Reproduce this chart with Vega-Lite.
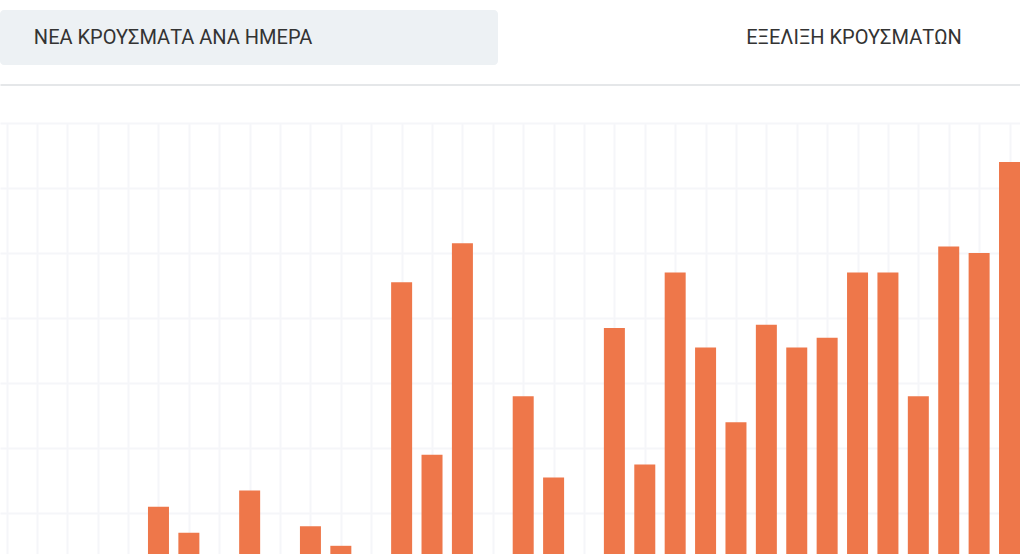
{
  "$schema": "https://vega.github.io/schema/vega-lite/v6.json",
  "padding": {"top": 10, "left": 0, "right": 0, "bottom": 0},
  "autosize": {"type": "pad"},
  "background": "white",
  "config": {"view": {"stroke": null}},
  "spacing": 58,
  "bounds": "flush",
  "vconcat": [
    {
      "width": 1020,
      "height": 55,
      "data": {
        "values": [
          {"tab": "ΝΕΑ ΚΡΟΥΣΜΑΤΑ ΑΝΑ ΗΜΕΡΑ", "active": true},
          {"tab": "ΕΞΕΛΙΞΗ ΚΡΟΥΣΜΑΤΩΝ", "active": false}
        ]
      },
      "layer": [
        {
          "transform": [{"filter": "datum.active"}],
          "mark": {"type": "rect", "color": "#edf1f4", "cornerRadius": 4},
          "encoding": {
            "x": {
              "field": "tab", "type": "nominal",
              "scale": {"domain": ["ΝΕΑ ΚΡΟΥΣΜΑΤΑ ΑΝΑ ΗΜΕΡΑ", "ΕΞΕΛΙΞΗ ΚΡΟΥΣΜΑΤΩΝ"], "paddingInner": 0.046, "paddingOuter": 0},
              "axis": {"orient": "bottom", "title": null, "labels": false, "ticks": false, "grid": false,
                       "domain": true, "domainColor": "#e5e7e9", "domainWidth": 2, "offset": 19.5}
            }
          }
        },
        {
          "mark": {"type": "text", "font": "Roboto", "fontSize": 20, "color": "#333333", "baseline": "middle"},
          "encoding": {
            "x": {
              "field": "tab", "type": "nominal",
              "scale": {"domain": ["ΝΕΑ ΚΡΟΥΣΜΑΤΑ ΑΝΑ ΗΜΕΡΑ", "ΕΞΕΛΙΞΗ ΚΡΟΥΣΜΑΤΩΝ"], "padding": 0.249, "align": 0.5103},
              "axis": null
            },
            "text": {"field": "tab"}
          }
        }
      ],
      "resolve": {"scale": {"x": "independent"}, "axis": {"x": "independent"}}
    },
    {
      "width": 1020,
      "height": 431,
      "data": {
        "values": [
          {"day": 0, "date": "2020-02-29", "cases": 3},
          {"day": 1, "date": "2020-03-01", "cases": 0},
          {"day": 2, "date": "2020-03-02", "cases": 3},
          {"day": 3, "date": "2020-03-03", "cases": 0},
          {"day": 4, "date": "2020-03-04", "cases": 2},
          {"day": 5, "date": "2020-03-05", "cases": 22},
          {"day": 6, "date": "2020-03-06", "cases": 14},
          {"day": 7, "date": "2020-03-07", "cases": 0},
          {"day": 8, "date": "2020-03-08", "cases": 27},
          {"day": 9, "date": "2020-03-09", "cases": 0},
          {"day": 10, "date": "2020-03-10", "cases": 16},
          {"day": 11, "date": "2020-03-11", "cases": 10},
          {"day": 12, "date": "2020-03-12", "cases": 0},
          {"day": 13, "date": "2020-03-13", "cases": 91},
          {"day": 14, "date": "2020-03-14", "cases": 38},
          {"day": 15, "date": "2020-03-15", "cases": 103},
          {"day": 16, "date": "2020-03-16", "cases": 0},
          {"day": 17, "date": "2020-03-17", "cases": 56},
          {"day": 18, "date": "2020-03-18", "cases": 31},
          {"day": 19, "date": "2020-03-19", "cases": 0},
          {"day": 20, "date": "2020-03-20", "cases": 77},
          {"day": 21, "date": "2020-03-21", "cases": 35},
          {"day": 22, "date": "2020-03-22", "cases": 94},
          {"day": 23, "date": "2020-03-23", "cases": 71},
          {"day": 24, "date": "2020-03-24", "cases": 48},
          {"day": 25, "date": "2020-03-25", "cases": 78},
          {"day": 26, "date": "2020-03-26", "cases": 71},
          {"day": 27, "date": "2020-03-27", "cases": 74},
          {"day": 28, "date": "2020-03-28", "cases": 94},
          {"day": 29, "date": "2020-03-29", "cases": 94},
          {"day": 30, "date": "2020-03-30", "cases": 56},
          {"day": 31, "date": "2020-03-31", "cases": 102},
          {"day": 32, "date": "2020-04-01", "cases": 100},
          {"day": 33, "date": "2020-04-02", "cases": 128}
        ]
      },
      "mark": {"type": "bar", "color": "#ee774a", "width": 21, "clip": true, "orient": "vertical"},
      "encoding": {
        "x": {
          "field": "day", "type": "quantitative",
          "scale": {"domain": [-0.2139, 33.345], "nice": false, "zero": false, "padding": 0},
          "axis": {"values": [0,1,2,3,4,5,6,7,8,9,10,11,12,13,14,15,16,17,18,19,20,21,22,23,24,25,26,27,28,29,30,31,32,33],
                   "labels": false, "ticks": false, "domain": false, "title": null,
                   "grid": true, "gridColor": "#f5f6f9", "gridWidth": 2}
        },
        "y": {
          "field": "cases", "type": "quantitative",
          "scale": {"domain": [7.48, 140], "nice": false, "zero": false},
          "axis": {"values": [20, 40, 60, 80, 100, 120, 140],
                   "labels": false, "ticks": false, "domain": false, "title": null,
                   "grid": true, "gridColor": "#f5f6f9", "gridWidth": 2}
        },
        "tooltip": [
          {"field": "date", "type": "nominal"},
          {"field": "cases", "type": "quantitative"}
        ]
      }
    }
  ]
}
